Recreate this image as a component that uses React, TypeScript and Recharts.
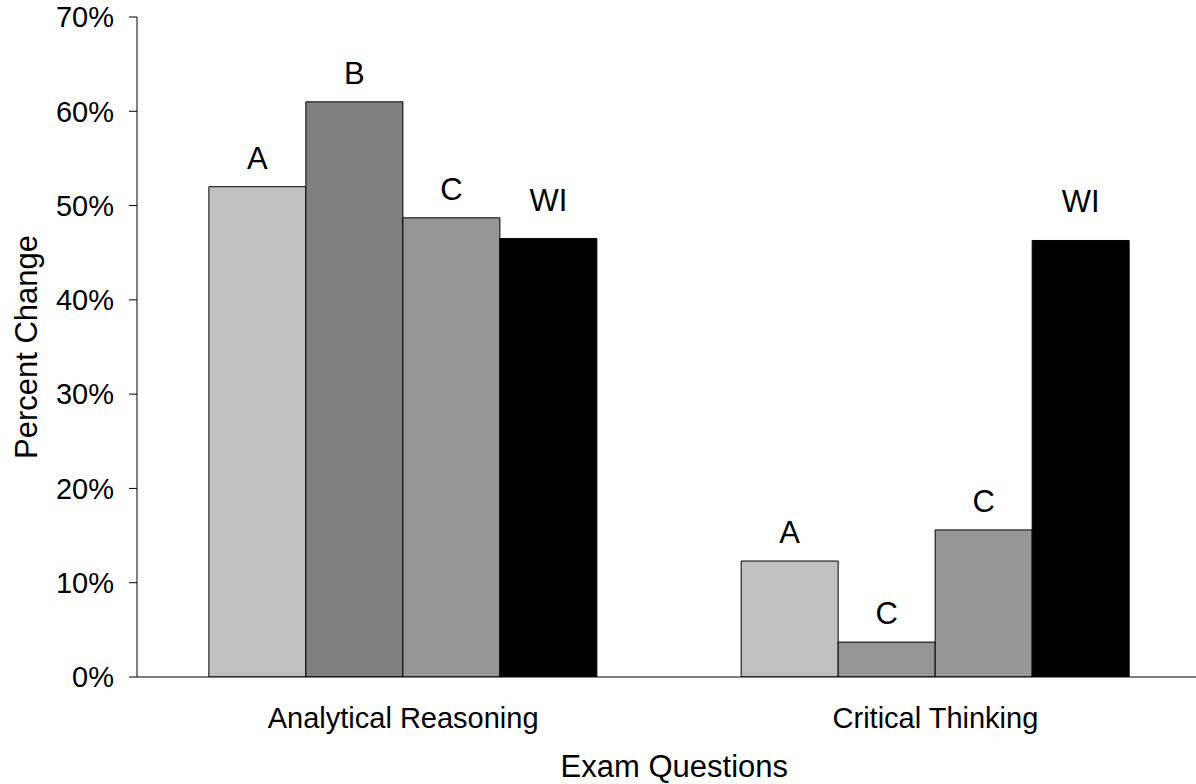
import { Bar, BarChart, Cell, LabelList, XAxis, YAxis } from "recharts";

const categories = ["Analytical Reasoning", "Critical Thinking"];

// percent change per exam question, four bars per category
const firstValues = [52, 12.3];
const firstLabels = ["A", "A"];
const secondValues = [61, 3.7];
const secondLabels = ["B", "C"];
const thirdValues = [48.7, 15.6];
const thirdLabels = ["C", "C"];
const wiValues = [46.5, 46.3];
const wiLabels = ["WI", "WI"];

const yTicks = [0, 10, 20, 30, 40, 50, 60, 70];
const edgeTicks = [0, 1, 2];

const FONT = '"Liberation Sans", Arial, sans-serif';
const secondFills = ["#808080", "#969696"];

const rows = categories.map((name, i) => ({
  name,
  first: firstValues[i],
  firstLabel: firstLabels[i],
  second: secondValues[i],
  secondLabel: secondLabels[i],
  third: thirdValues[i],
  thirdLabel: thirdLabels[i],
  wi: wiValues[i],
  wiLabel: wiLabels[i],
}));

const labelStyle = { fontFamily: FONT, fontSize: 31, fill: "#000" };

export default function App() {
  return (
    <div
      style={{
        position: "absolute",
        left: 0,
        top: 0,
        width: 1196,
        height: 784,
        overflow: "hidden",
        background: "#fff",
      }}
    >
      <BarChart
        width={1206}
        height={784}
        data={rows}
        margin={{ top: 17, right: 4.4, bottom: 7, left: 0 }}
        barCategoryGap="13.5%"
        barGap={0}
      >
        {/* tick marks on the category boundaries */}
        <XAxis
          xAxisId={0}
          type="number"
          domain={[0, 2]}
          ticks={edgeTicks}
          allowDataOverflow
          height={0}
          axisLine={false}
          tickSize={8}
          tickLine={{ stroke: "#000" }}
          tickFormatter={() => ""}
        />
        <XAxis
          xAxisId={1}
          dataKey="name"
          height={100}
          axisLine={{ stroke: "#000" }}
          tickLine={false}
          tickSize={0}
          tickMargin={30}
          tick={{ fontFamily: FONT, fontSize: 29, fill: "#000" }}
          label={{
            value: "Exam Questions",
            position: "insideBottom",
            offset: 0,
            dx: 5,
            style: { fontFamily: FONT, fontSize: 31, fill: "#000" },
          }}
        />
        <YAxis
          width={137}
          domain={[0, 70]}
          ticks={yTicks}
          allowDataOverflow
          axisLine={{ stroke: "#000" }}
          tickLine={{ stroke: "#000" }}
          tickSize={8}
          tickMargin={15}
          tickFormatter={(v: number) => `${v}%`}
          tick={{ fontFamily: FONT, fontSize: 29, fill: "#000" }}
          label={{
            value: "Percent Change",
            angle: -90,
            position: "insideLeft",
            offset: 26,
            style: { fontFamily: FONT, fontSize: 31, fill: "#000", textAnchor: "middle" },
          }}
        />
        <Bar xAxisId={1} dataKey="first" fill="#C0C0C0" stroke="#000" strokeWidth={1} isAnimationActive={false}>
          <LabelList dataKey="firstLabel" position="top" offset={18} style={labelStyle} />
        </Bar>
        <Bar xAxisId={1} dataKey="second" stroke="#000" strokeWidth={1} isAnimationActive={false}>
          {rows.map((r, i) => (
            <Cell key={r.name} fill={secondFills[i]} />
          ))}
          <LabelList dataKey="secondLabel" position="top" offset={18} style={labelStyle} />
        </Bar>
        <Bar xAxisId={1} dataKey="third" fill="#969696" stroke="#000" strokeWidth={1} isAnimationActive={false}>
          <LabelList dataKey="thirdLabel" position="top" offset={18} style={labelStyle} />
        </Bar>
        <Bar xAxisId={1} dataKey="wi" fill="#000" stroke="#000" strokeWidth={1} isAnimationActive={false}>
          <LabelList dataKey="wiLabel" position="top" offset={28} style={labelStyle} />
        </Bar>
      </BarChart>
    </div>
  );
}
